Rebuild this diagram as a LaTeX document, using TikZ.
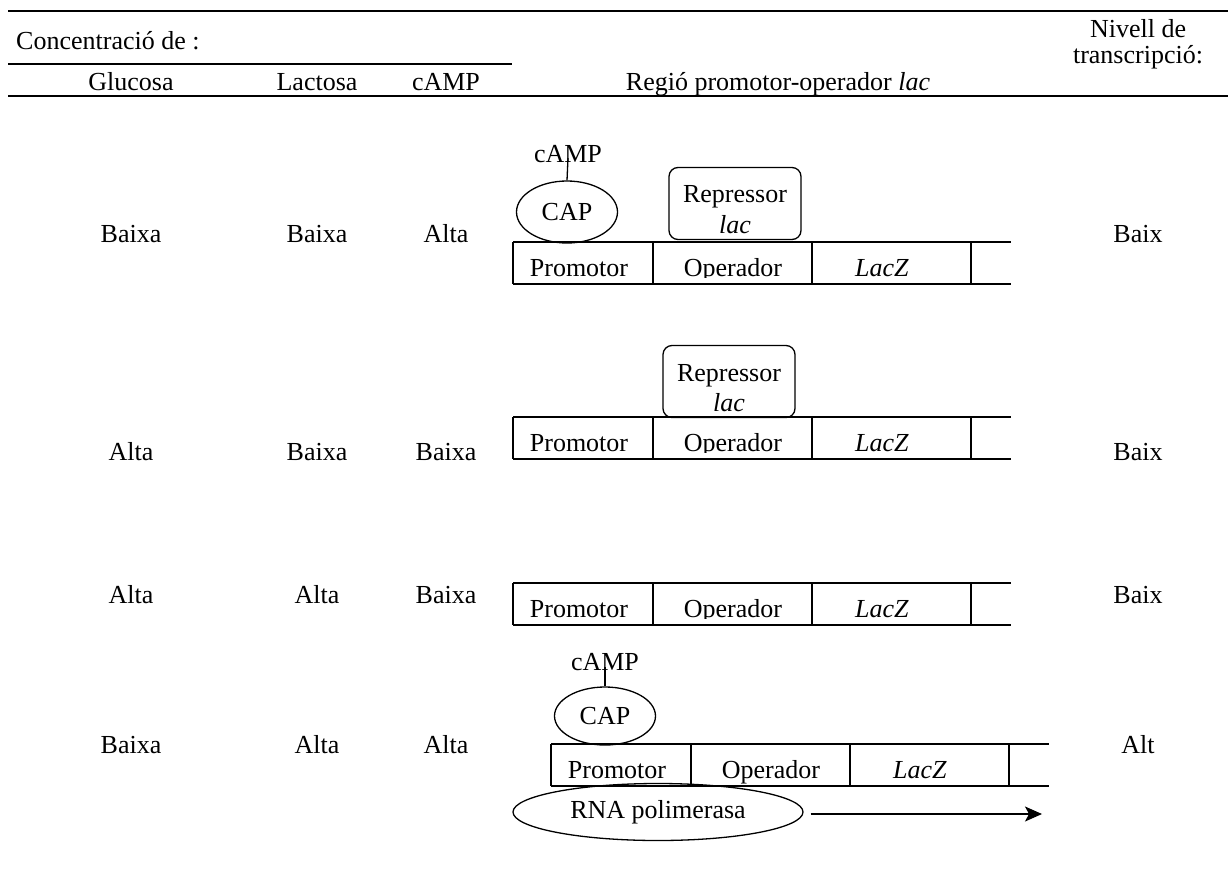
\documentclass[tikz,border=0pt]{standalone}
\usepackage{fontspec}
\setmainfont{Liberation Serif}
\usetikzlibrary{shapes.geometric,arrows.meta}
\tikzset{
  txt/.style={inner sep=0pt,anchor=base,font=\fontsize{26}{30}\selectfont},
  hrule/.style={line width=2pt},
  ln/.style={line width=1.3pt},
  capnode/.style={draw,ellipse,line width=1.3pt,minimum width=101pt,minimum height=62pt,inner sep=0pt,font=\fontsize{26}{30}\selectfont},
  rnanode/.style={draw,ellipse,line width=1.3pt,minimum width=290pt,minimum height=57pt,inner sep=0pt,font=\fontsize{26}{30}\selectfont},
  repbox/.style={draw,rounded corners=9pt,line width=1.3pt,minimum width=132pt,minimum height=72pt,inner sep=0pt}
}
% #1 left x, #2 top y, #3 bottom y, #4 id, #5 clip depth below baseline
\newcommand\dnastrip[5]{%
  \draw[ln] (#1,#2) -- ++(498,0);
  \draw[ln] (#1,#3) -- ++(498,0);
  \draw[ln] (#1,#2) -- (#1,#3);
  \draw[ln] ({#1+140},#2) -- ({#1+140},#3);
  \draw[ln] ({#1+299},#2) -- ({#1+299},#3);
  \draw[ln] ({#1+458},#2) -- ({#1+458},#3);
  \node[txt] (prom#4) at ({#1+66},{#3-8}) {Promotor};
  \begin{scope}
    \clip ({#1+141},#2) rectangle ({#1+298},{#3-8+#5});
    \node[txt] (oper#4) at ({#1+220},{#3-8}) {Operador};
  \end{scope}
  \node[txt] (lacz#4) at ({#1+369},{#3-8}) {\textit{LacZ}};
}
\begin{document}
\begin{tikzpicture}[x=1pt,y=-1pt]
\useasboundingbox (0,0) rectangle (1228,894);
% header
\draw[hrule] (8,11) -- (1228,11);
\draw[hrule] (8,64) -- (512,64);
\draw[hrule] (8,96) -- (1228,96);
\node[txt,anchor=base west] (conc) at (16,49) {Concentració de :};
\node[txt] (hglu) at (131,90) {Glucosa};
\node[txt] (hlac) at (317,90) {Lactosa};
\node[txt] (hcamp) at (446,90) {cAMP};
\node[txt] (hreg) at (778,90) {Regió promotor-operador \textit{lac}};
\node[txt] (hniv1) at (1138,37) {Nivell de};
\node[txt] (hniv2) at (1138,63) {transcripció:};

% row 1
\node[txt] (g1) at (131,242) {Baixa};
\node[txt] (l1) at (317,242) {Baixa};
\node[txt] (c1) at (446,242) {Alta};
\node[txt] (n1) at (1138,242) {Baix};
\dnastrip{513}{242}{284}{1}{1.5}
\node[capnode] (cap1) at (567,212) {CAP};
\node[txt] (camp1) at (568,162) {cAMP};
\draw[ln] (cap1.north) -- ([yshift=4pt]camp1.base);
\node[repbox] (rep1) at (735,203.5) {};
\node[txt] (rept1) at (735,202) {Repressor};
\node[txt] (repl1) at (735,233) {\textit{lac}};

% row 2
\node[txt] (g2) at (131,460) {Alta};
\node[txt] (l2) at (317,460) {Baixa};
\node[txt] (c2) at (446,460) {Baixa};
\node[txt] (n2) at (1138,460) {Baix};
\dnastrip{513}{417}{459}{2}{1.5}
\node[repbox] (rep2) at (729,381.5) {};
\node[txt] (rept2) at (729,381) {Repressor};
\node[txt] (repl2) at (729,411) {\textit{lac}};

% row 3
\node[txt] (g3) at (131,603) {Alta};
\node[txt] (l3) at (317,603) {Alta};
\node[txt] (c3) at (446,603) {Baixa};
\node[txt] (n3) at (1138,603) {Baix};
\dnastrip{513}{583}{625}{3}{1.5}

% row 4
\node[txt] (g4) at (131,753) {Baixa};
\node[txt] (l4) at (317,753) {Alta};
\node[txt] (c4) at (446,753) {Alta};
\node[txt] (n4) at (1138,753) {Alt};
\dnastrip{551}{744}{786}{4}{10}
\node[capnode,minimum height=58pt] (cap4) at (605,716) {CAP};
\node[txt] (camp4) at (605,670) {cAMP};
\draw[ln] (cap4.north) -- ([yshift=3pt]camp4.base);
\node[rnanode] (rna) at (658,812) {RNA polimerasa};
\coordinate (arrend) at (1042,814);
\draw[ln,-{Stealth[length=17pt,width=15pt,inset=4pt]}] ([xshift=7pt]rna.east |- arrend) -- (arrend);
\end{tikzpicture}
\end{document}
